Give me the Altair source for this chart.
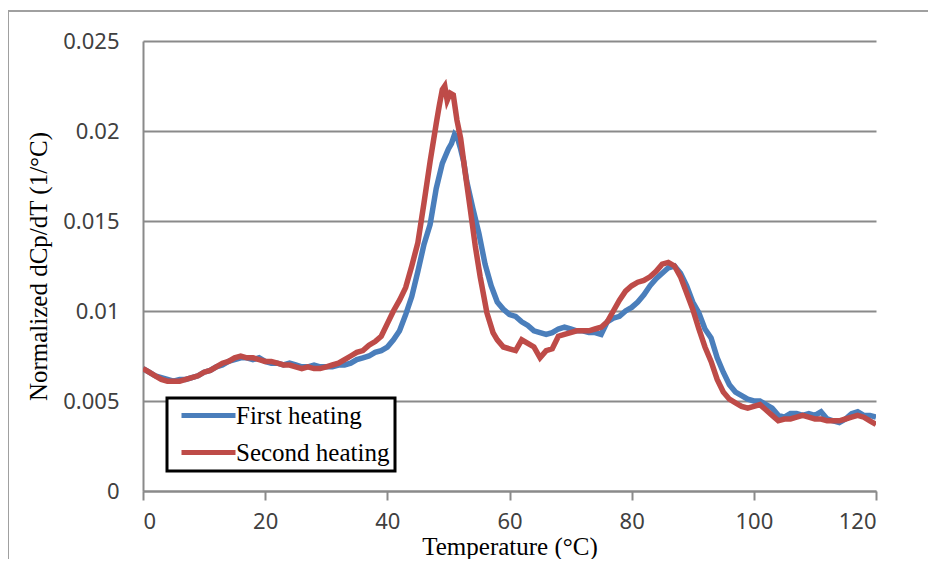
import altair as alt
import pandas as pd

# First heating (blue)
t1 = [0,1,2,3,4,5,6,7,8,9,10,11,12,13,14,15,16,17,18,19,20,21,22,23,24,25,26,27,28,29,30,
      31,32,33,34,35,36,37,38,39,40,41,42,43,44,45,46,47,48,49,50,50.5,51,51.5,52,52.5,53,
      54,55,56,57,58,59,60,61,62,63,64,65,66,67,68,69,70,71,72,73,74,75,76,77,78,79,80,
      81,82,83,84,85,86,87,88,89,90,91,92,93,94,95,96,97,98,99,100,101,102,103,104,105,
      106,107,108,109,110,111,112,113,114,115,116,117,118,119,120]
v1 = [0.0068,0.0066,0.0064,0.0063,0.0062,0.0061,0.0062,0.0062,0.0063,0.0064,0.0066,0.0067,
      0.0069,0.0070,0.0072,0.0073,0.0074,0.0074,0.0073,0.0074,0.0072,0.0071,0.0071,0.0070,
      0.0071,0.0070,0.0069,0.0069,0.0070,0.0069,0.0069,0.0069,0.0070,0.0070,0.0071,0.0073,
      0.0074,0.0075,0.0077,0.0078,0.0080,0.0084,0.0089,0.0098,0.0108,0.0122,0.0137,0.0148,
      0.0168,0.0182,0.0190,0.0193,0.0198,0.0196,0.0190,0.0183,0.0172,0.0157,0.0143,0.0126,
      0.0114,0.0105,0.0101,0.0098,0.0097,0.0094,0.0092,0.0089,0.0088,0.0087,0.0088,0.0090,
      0.0091,0.0090,0.0089,0.0089,0.0088,0.0088,0.0087,0.0094,0.0096,0.0097,0.0100,0.0102,
      0.0105,0.0109,0.0114,0.0118,0.0121,0.0124,0.0125,0.0121,0.0114,0.0105,0.0099,0.0090,
      0.0085,0.0074,0.0066,0.0059,0.0055,0.0053,0.0051,0.0050,0.0050,0.0048,0.0046,0.0042,
      0.0041,0.0043,0.0043,0.0042,0.0043,0.0042,0.0044,0.0040,0.0039,0.0038,0.0040,0.0043,
      0.0044,0.0042,0.0042,0.0041]

# Second heating (red)
t2 = [0,1,2,3,4,5,6,7,8,9,10,11,12,13,14,15,16,17,18,19,20,21,22,23,24,25,26,27,28,29,30,
      31,32,33,34,35,36,37,38,39,40,41,42,43,44,45,46,47,48,48.5,49,49.4,49.8,50.3,50.8,
      51.4,52,52.7,53.6,54.4,55.2,56.3,57.3,58,59,60,61,62,63,64,65,66,67,68,69,70,71,72,
      73,74,75,76,77,78,79,80,81,82,83,84,85,86,87,88,89,90,91,92,93,94,95,96,97,98,99,
      100,101,102,103,104,105,106,107,108,109,110,111,112,113,114,115,116,117,118,119,120]
v2 = [0.0068,0.0066,0.0064,0.0062,0.0061,0.0061,0.0061,0.0062,0.0063,0.0064,0.0066,0.0067,
      0.0069,0.0071,0.0072,0.0074,0.0075,0.0074,0.0074,0.0073,0.0072,0.0072,0.0071,0.0070,
      0.0070,0.0069,0.0068,0.0069,0.0068,0.0068,0.0069,0.0070,0.0071,0.0073,0.0075,0.0077,
      0.0078,0.0081,0.0083,0.0086,0.0093,0.0100,0.0106,0.0113,0.0125,0.0138,0.0160,0.0183,
      0.0204,0.0214,0.0223,0.0225,0.0217,0.0221,0.0220,0.0206,0.0196,0.0178,0.0156,0.0136,
      0.0119,0.0099,0.0088,0.0084,0.0080,0.0079,0.0078,0.0084,0.0082,0.0080,0.0074,0.0078,
      0.0079,0.0086,0.0087,0.0088,0.0089,0.0089,0.0089,0.0090,0.0091,0.0094,0.0100,0.0106,
      0.0111,0.0114,0.0116,0.0117,0.0119,0.0122,0.0126,0.0127,0.0125,0.0119,0.0110,0.0101,
      0.0090,0.0080,0.0072,0.0062,0.0055,0.0051,0.0049,0.0047,0.0046,0.0047,0.0048,0.0045,
      0.0042,0.0039,0.0040,0.0040,0.0041,0.0042,0.0041,0.0040,0.0040,0.0039,0.0039,0.0039,
      0.0040,0.0041,0.0042,0.0041,0.0039,0.0037]

series_names = ["First heating", "Second heating"]
series_colors = ["#4A7EBB", "#BE4B48"]
x_ticks = [0, 20, 40, 60, 80, 100, 120]
y_ticks = [0, 0.005, 0.01, 0.015, 0.02, 0.025]

df1 = pd.DataFrame({"T": t1, "v": v1, "series": series_names[0]})
df2 = pd.DataFrame({"T": t2, "v": v2, "series": series_names[1]})

label_font = "Noto Sans"
serif = "Liberation Serif"

x_enc = alt.X("T:Q", scale=alt.Scale(domain=[0, 120], nice=False),
              axis=alt.Axis(values=x_ticks, title="Temperature (°C)", grid=False,
                            domainColor="#8a8a8a", domainWidth=2, tickColor="#8a8a8a",
                            tickWidth=2, tickSize=9, labelPadding=11,
                            labelFont=label_font, labelFontSize=22, labelColor="#404040",
                            titleFont=serif, titleFontSize=25, titleFontWeight="normal",
                            titleColor="black", titlePadding=2))
y_enc = alt.Y("v:Q", scale=alt.Scale(domain=[0, 0.025], nice=False),
              axis=alt.Axis(values=y_ticks, format="~g", title="Normalized dCp/dT (1/°C)",
                            grid=True, gridColor="#8a8a8a", gridWidth=2,
                            domainColor="#8a8a8a", domainWidth=2, ticks=False,
                            labelPadding=24, labelFont=label_font, labelFontSize=22,
                            labelColor="#404040", titleFont=serif, titleFontSize=25,
                            titleFontWeight="normal", titleColor="black", titlePadding=11))
color_enc = alt.Color("series:N",
                      scale=alt.Scale(domain=series_names, range=series_colors),
                      legend=alt.Legend(orient="none", legendX=24, legendY=357, title=None,
                                        symbolType="M-3,0H3", symbolSize=324,
                                        symbolStrokeWidth=5, symbolOffset=24,
                                        labelOffset=15, labelFont=serif, labelFontSize=25,
                                        labelColor="black", labelLimit=0,
                                        strokeColor="black",
                                        fillColor="white", padding=5, rowPadding=11))

line1 = alt.Chart(df1).mark_line(strokeWidth=5.5, clip=True).encode(x=x_enc, y=y_enc, color=color_enc)
line2 = alt.Chart(df2).mark_line(strokeWidth=5.5, clip=True).encode(x=x_enc, y=y_enc, color=color_enc)

frame = alt.Chart(pd.DataFrame({"a": [0]})).mark_rect(
    filled=False, stroke="#a0a0a0", strokeWidth=2, clip=False
).encode(x=alt.value(-135), x2=alt.value(900), y=alt.value(-30), y2=alt.value(600))

chart = alt.layer(frame, line1, line2).properties(
    width=733, height=450,
    autosize=alt.AutoSizeParams(type="none"),
    padding={"left": 135, "top": 33, "right": 52, "bottom": 68},
    background="white",
).configure_view(stroke=None).configure_legend(strokeWidth=3)

chart.save("out.html", embed_options={"renderer": "svg", "actions": False})
